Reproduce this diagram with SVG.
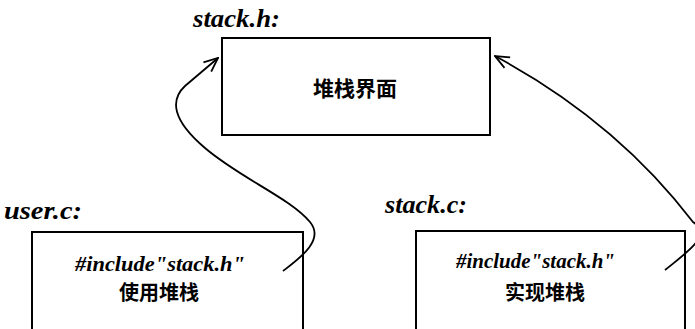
<svg xmlns="http://www.w3.org/2000/svg" width="695" height="329" viewBox="0 0 695 329">
<defs>
<marker id="arr" viewBox="0 0 16 16" refX="15" refY="8" markerWidth="16" markerHeight="16" markerUnits="userSpaceOnUse" orient="auto">
<path d="M1,2 L15,8 L1,14" fill="none" stroke="#000" stroke-width="1.8"/>
</marker>
</defs>
<style>
.box{fill:#fff;stroke:#000;stroke-width:2}
.lbl{font-family:"Liberation Serif",serif;font-style:italic;font-weight:bold;font-size:25px;fill:#000}
.inc{font-family:"Liberation Serif",serif;font-style:italic;font-weight:bold;font-size:21px;fill:#000}
.cjk{font-family:"Noto Sans CJK SC","Noto Sans CJK JP",sans-serif;font-weight:bold;font-size:20px;fill:#000;text-anchor:middle}
.con{fill:none;stroke:#000;stroke-width:1.8}
</style>
<rect width="695" height="329" fill="#fff"/>
<g id="stack_h">
<text class="lbl" x="193" y="27" textLength="87" lengthAdjust="spacingAndGlyphs">stack.h:</text>
<rect class="box" x="222" y="38" width="268" height="97"/>
<text class="cjk" x="355" y="96" style="font-size:21px">堆栈界面</text>
</g>
<g id="user_c">
<text class="lbl" x="4" y="219" textLength="78" lengthAdjust="spacingAndGlyphs">user.c:</text>
<rect class="box" x="32" y="232" width="271" height="110"/>
<text class="inc" x="75" y="271" textLength="170" lengthAdjust="spacingAndGlyphs">#include"stack.h"</text>
<text class="cjk" x="159" y="300">使用堆栈</text>
</g>
<g id="stack_c">
<text class="lbl" x="385" y="213" textLength="82" lengthAdjust="spacingAndGlyphs">stack.c:</text>
<rect class="box" x="416" y="231" width="269" height="110"/>
<text class="inc" x="456" y="268" textLength="159" lengthAdjust="spacingAndGlyphs">#include"stack.h"</text>
<text class="cjk" x="545" y="300">实现堆栈</text>
</g>
<g id="connectors">
<path class="con" marker-end="url(#arr)" d="M283,271 C300,258 325,240 310,222 C290,198 240,178 205,148 C172,120 170,100 185,86 L218,58"/>
<path class="con" marker-end="url(#arr)" d="M665,270 C690,250 712,235 693,222 Q616,121 495,56"/>
</g>
</svg>
